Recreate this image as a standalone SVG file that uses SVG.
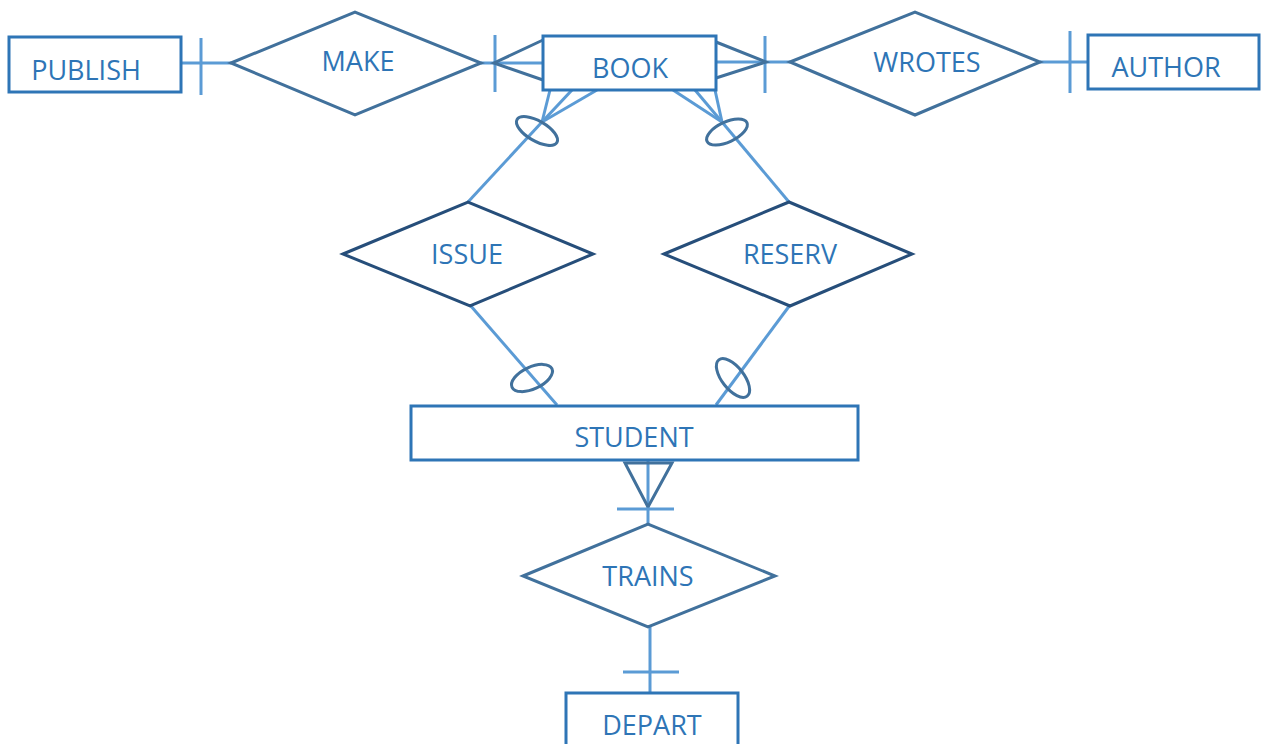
<svg xmlns="http://www.w3.org/2000/svg" width="1268" height="744" viewBox="0 0 1268 744">
<style>
.ent{fill:#fff;stroke:#2E75B6;stroke-width:3}
.rel{fill:#fff;stroke:#41719C;stroke-width:3;stroke-linejoin:miter}
.rel2{fill:#fff;stroke:#264E7A;stroke-width:3}
.ln{stroke:#5B9BD5;stroke-width:3;fill:none}
.dk{stroke:#41719C;stroke-width:3;fill:none}
.t{font-family:"Open Sans","Liberation Sans",sans-serif;font-size:27px;fill:#2E75B6;text-anchor:middle;dominant-baseline:central}
</style>
<rect width="1268" height="744" fill="#fff"/>
<g id="connectors">
  <!-- PUBLISH - MAKE -->
  <line class="ln" x1="181" y1="63" x2="231" y2="63"/>
  <line class="ln" x1="201" y1="38" x2="201" y2="95"/>
  <!-- MAKE - BOOK -->
  <line class="ln" x1="481" y1="63" x2="543" y2="63"/>
  <line class="ln" x1="495" y1="35" x2="495" y2="92"/>
  <polyline class="dk" points="543,40 494,63 543,80"/>
  <!-- BOOK - WROTES -->
  <line class="ln" x1="716" y1="62" x2="790" y2="62"/>
  <line class="ln" x1="765" y1="36" x2="765" y2="93"/>
  <polyline class="dk" points="716,42 766,62 716,78"/>
  <!-- WROTES - AUTHOR -->
  <line class="ln" x1="1040" y1="62" x2="1088" y2="62"/>
  <line class="ln" x1="1070" y1="31" x2="1070" y2="93"/>
  <!-- BOOK - ISSUE -->
  <line class="ln" x1="550" y1="90" x2="542" y2="122"/>
  <line class="ln" x1="572" y1="90" x2="542" y2="122"/>
  <line class="ln" x1="597" y1="90" x2="542" y2="122"/>
  <line class="ln" x1="542" y1="122" x2="468" y2="202"/>
  <ellipse class="dk" cx="537" cy="131" rx="23" ry="10" transform="rotate(30 537 131)"/>
  <!-- BOOK - RESERV -->
  <line class="ln" x1="673" y1="90" x2="722" y2="122"/>
  <line class="ln" x1="695" y1="90" x2="722" y2="122"/>
  <line class="ln" x1="715" y1="90" x2="722" y2="122"/>
  <line class="ln" x1="722" y1="122" x2="789" y2="202"/>
  <ellipse class="dk" cx="727" cy="132" rx="22" ry="10" transform="rotate(-25 727 132)"/>
  <!-- ISSUE - STUDENT -->
  <line class="ln" x1="470" y1="305" x2="557" y2="405"/>
  <ellipse class="dk" cx="532" cy="378" rx="22" ry="11" transform="rotate(-25 532 378)"/>
  <!-- RESERV - STUDENT -->
  <line class="ln" x1="790" y1="305" x2="716" y2="405"/>
  <ellipse class="dk" cx="733" cy="378" rx="23" ry="11" transform="rotate(52 733 378)"/>
  <!-- STUDENT - TRAINS -->
  <line class="ln" x1="648" y1="460" x2="648" y2="524"/>
  <polygon class="dk" points="625,463 672,463 648,507"/>
  <line class="ln" x1="617" y1="509" x2="674" y2="509"/>
  <!-- TRAINS - DEPART -->
  <line class="ln" x1="650" y1="624" x2="650" y2="693"/>
  <line class="ln" x1="623" y1="672" x2="679" y2="672"/>
</g>
<g id="PUBLISH"><rect class="ent" x="9" y="37" width="172" height="55"/><text class="t" x="86" y="69">PUBLISH</text></g>
<g id="MAKE"><polygon class="rel" points="231,63 355,12 481,63 355,115"/><text class="t" x="358" y="60">MAKE</text></g>
<g id="BOOK"><rect class="ent" x="543" y="36" width="173" height="54"/><text class="t" x="630" y="67">BOOK</text></g>
<g id="WROTES"><polygon class="rel" points="790,62 915,12 1040,62 915,115"/><text class="t" x="927" y="61">WROTES</text></g>
<g id="AUTHOR"><rect class="ent" x="1088" y="35" width="171" height="54"/><text class="t" x="1166" y="66">AUTHOR</text></g>
<g id="ISSUE"><polygon class="rel2" points="343,254 468,202 593,254 470,306"/><text class="t" x="467" y="253">ISSUE</text></g>
<g id="RESERV"><polygon class="rel2" points="664,254 789,202 912,254 790,306"/><text class="t" x="790" y="253">RESERV</text></g>
<g id="STUDENT"><rect class="ent" x="411" y="406" width="447" height="54"/><text class="t" x="634" y="436">STUDENT</text></g>
<g id="TRAINS"><polygon class="rel" points="523,576 648,524 775,576 648,627"/><text class="t" x="648" y="575">TRAINS</text></g>
<g id="DEPART"><rect class="ent" x="566" y="693" width="172" height="70"/><text class="t" x="652" y="724">DEPART</text></g>
</svg>
